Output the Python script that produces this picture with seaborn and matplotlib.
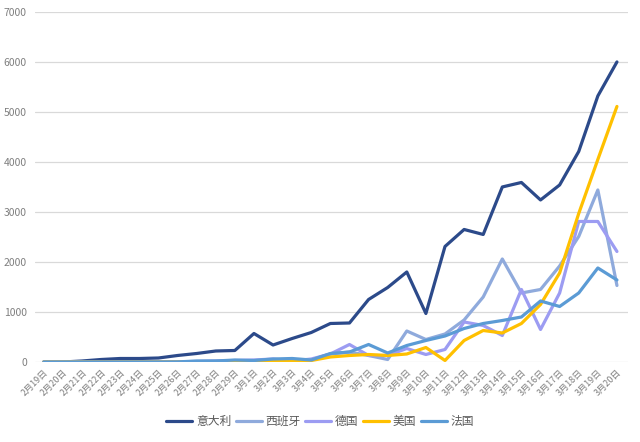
import numpy as np
import pandas as pd
import seaborn as sns
import matplotlib.pyplot as plt

# daily new cases
dates = ["2月%d日" % d for d in range(19, 30)] + ["3月%d日" % d for d in range(1, 21)]

italy = [0, 0, 20, 50, 70, 70, 80, 130, 170, 220, 230, 570, 340, 470, 590, 770,
         780, 1250, 1490, 1800, 970, 2310, 2650, 2550, 3500, 3590, 3240, 3540,
         4210, 5320, 6000]
spain = [0, 0, 0, 0, 0, 0, 0, 5, 10, 15, 20, 25, 30, 40, 40, 160, 200, 130, 50,
         620, 450, 560, 840, 1300, 2060, 1380, 1450, 1920, 2510, 3440, 1530]
germany = [0, 0, 0, 0, 0, 0, 0, 5, 10, 20, 30, 40, 60, 20, 60, 160, 350, 130,
           130, 270, 150, 250, 800, 730, 530, 1450, 650, 1380, 2810, 2810, 2210]
usa = [0, 0, 0, 0, 0, 0, 0, 0, 0, 0, 5, 5, 20, 15, 30, 100, 130, 150, 130, 160,
       290, 30, 430, 630, 580, 770, 1150, 1780, 2970, 4050, 5110]
france = [0, 0, 0, 0, 0, 0, 0, 2, 20, 20, 40, 30, 60, 70, 40, 170, 200, 350, 180,
          330, 430, 520, 670, 770, 830, 900, 1220, 1110, 1380, 1880, 1640]

countries = ["意大利", "西班牙", "德国", "美国", "法国"]
colors = ["#2C4A8A", "#8FAADC", "#9C9CF2", "#FFC000", "#5B9BD5"]

rows = []
for name, vals in zip(countries, [italy, spain, germany, usa, france]):
    for i, v in enumerate(vals):
        rows.append({"idx": i, "value": v, "country": name})
df = pd.DataFrame(rows)

sns.set_style("white")
plt.rcParams['font.family'] = ['Noto Sans CJK SC', 'DejaVu Sans']

fig = plt.figure(figsize=(6.4, 4.42), dpi=100)
ax = fig.add_axes([0.055, 0.181, 0.926, 0.792])

sns.lineplot(data=df, x="idx", y="value", hue="country", hue_order=countries,
             palette=colors, linewidth=2.3, ax=ax, legend=True)

ax.set_xlim(-0.45, 30.57)
ax.set_ylim(0, 7000)
ax.set_yticks(range(0, 7001, 1000))
ax.yaxis.grid(True, color="#D9D9D9", linewidth=0.9)
ax.set_axisbelow(True)
for s in ax.spines.values():
    s.set_visible(False)

ax.set_xticks(range(len(dates)))
ax.set_xticklabels(dates, rotation=45, ha="right", rotation_mode="anchor",
                   fontsize=6.5, color="#7F7F7F")
ax.tick_params(axis="y", labelsize=7.5, labelcolor="#7F7F7F", length=0, pad=6)
ax.tick_params(axis="x", length=0, pad=4)
ax.set_xlabel("")
ax.set_ylabel("")

ax.legend(loc="center", bbox_to_anchor=(0.5, 0.047), bbox_transform=fig.transFigure,
          ncol=5, frameon=False, fontsize=8.5, handlelength=2.2,
          handletextpad=0.3, columnspacing=0.4, labelcolor="#595959")

fig.savefig("out.png", dpi=100)
